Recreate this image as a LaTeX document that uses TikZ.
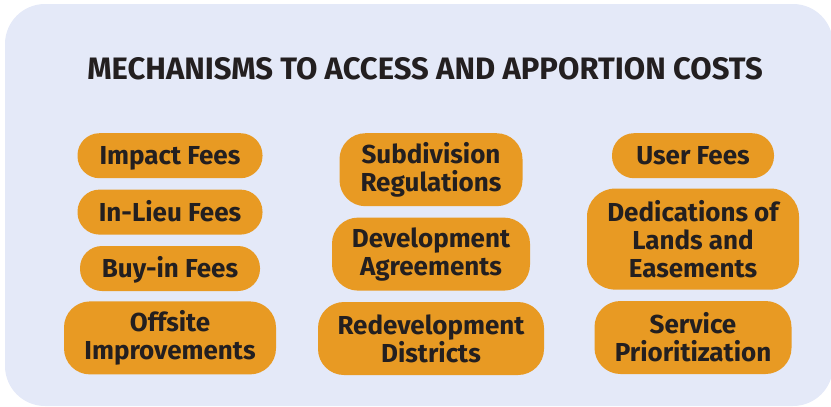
\documentclass[tikz,border=0pt]{standalone}
\usepackage{fontspec}
\setmainfont{Fira Sans}
\usepackage{tikz}
\usetikzlibrary{positioning}
\definecolor{PanelBlue}{HTML}{E4E9F8}
\definecolor{PillOrange}{HTML}{E89A23}
\definecolor{InkDark}{HTML}{231F20}

\begin{document}
\begin{tikzpicture}[
  x=1pt,y=-1pt,
  every node/.style={align=center,text=InkDark,font=\bfseries\fontsize{26}{28}\selectfont},
  pillbase/.style={fill=PillOrange,inner sep=0pt},
  pill/.style={pillbase,rounded corners=22pt,minimum height=45pt,text height=18pt,text depth=0pt},
  pilltwo/.style={pillbase,rounded corners=26pt,minimum height=73pt},
  pillthree/.style={pillbase,rounded corners=28pt,minimum height=101pt},
  headline/.style={font=\bfseries\fontsize{31}{36}\selectfont}
]
\useasboundingbox (0,0) rectangle (831,407);
\fill[PanelBlue,rounded corners=40pt] (5,4) rectangle (833,406);
\node[headline] (title) at (425,69) {MECHANISMS TO ACCESS AND APPORTION COSTS};
% left column
\node[pill,minimum width=185pt,anchor=north] (impact) at (170,133) {Impact Fees};
\node[pill,minimum width=185pt,below=11pt of impact] (inlieu) {In-Lieu Fees};
\node[pill,minimum width=180pt,below=11pt of inlieu] (buyin) {Buy-in Fees};
\node[pilltwo,minimum width=212pt,below=10pt of buyin] (offsite) {Offsite\\Improvements};
% middle column
\node[pilltwo,minimum width=183pt,anchor=north] (subdiv) at (431,133) {Subdivision\\Regulations};
\node[pilltwo,minimum width=198pt,below=11pt of subdiv] (devagree) {Development\\Agreements};
\node[pilltwo,minimum width=226pt,below=11pt of devagree] (redev) {Redevelopment\\Districts};
% right column
\node[pill,minimum width=162pt,anchor=north] (user) at (693,133) {User Fees};
\node[pillthree,minimum width=212pt,below=10pt of user] (dedic) {Dedications of\\Lands and\\Easements};
\node[pilltwo,minimum width=197pt,below=11pt of dedic] (service) {Service\\Prioritization};
\end{tikzpicture}
\end{document}
